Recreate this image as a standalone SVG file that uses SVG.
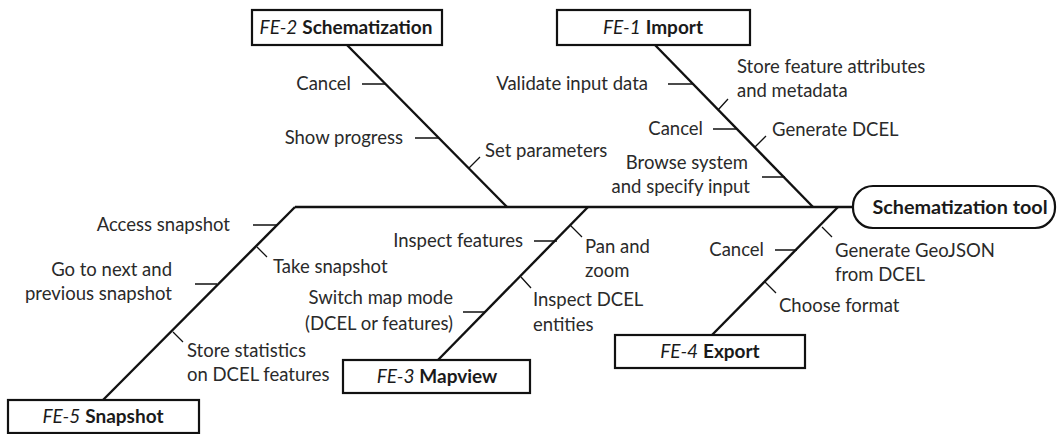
<svg xmlns="http://www.w3.org/2000/svg" width="1060" height="434" viewBox="0 0 1060 434">
<style>
text{font-family:Lato,"Open Sans","Liberation Sans",sans-serif;font-size:18.5px;fill:#2a2a2a}
.r{text-anchor:end}
.c{text-anchor:middle}
.box{fill:#fff;stroke:#111;stroke-width:2.2}
.bt{font-size:19px;fill:#1a1a1a}
.bt .i{font-style:italic;font-weight:normal}
.bt .b{font-weight:bold}
.bone{stroke:#111;stroke-width:2.4;fill:none;stroke-linecap:butt}
.tick{stroke:#111;stroke-width:1.3;fill:none}
</style>
<rect width="1060" height="434" fill="#fff"/>
<g id="connectors">
<path class="bone" d="M295,207 H853"/>
<path class="bone" d="M347,45 L507,207"/>
<path class="bone" d="M655,45 L813,207"/>
<path class="bone" d="M712,335 L838,207"/>
<path class="bone" d="M438,360 L588,207"/>
<path class="bone" d="M103,400 L295,207"/>
<path class="tick" d="M362,84 H385 M415,138 H439 M469,168 L480,157"/>
<path class="tick" d="M668,84 H693 M718,110 L728,99 M713,129 H737 M755,147 L766,136 M762,177 H785"/>
<path class="tick" d="M775,250 H797 M822,227 L832,237 M765,282 L776,293"/>
<path class="tick" d="M534,241 H557 M570,225 L582,237 M521,277 L531,288 M463,312 H485"/>
<path class="tick" d="M253,225 H277 M257,247 L267,257 M195,284 H217 M173,332 L183,342"/>
</g>
<g id="head">
<rect x="853" y="186" width="202" height="42" rx="20" class="box" stroke-width="2.6"/>
<text x="960" y="214" class="c" style="font-weight:bold;font-size:19.8px;fill:#1a1a1a">Schematization tool</text>
</g>
<g id="fe2">
<rect x="252" y="10" width="190" height="35" class="box"/>
<text x="346" y="34" class="c bt"><tspan class="i">FE-2</tspan> <tspan class="b">Schematization</tspan></text>
<text x="351" y="90" class="r">Cancel</text>
<text x="403" y="144" class="r">Show progress</text>
<text x="485" y="157">Set parameters</text>
</g>
<g id="fe1">
<rect x="557" y="10" width="193" height="35" class="box"/>
<text x="653" y="34" class="c bt"><tspan class="i">FE-1</tspan> <tspan class="b">Import</tspan></text>
<text x="648" y="90" class="r">Validate input data</text>
<text x="737" y="73">Store feature attributes</text>
<text x="737" y="97">and metadata</text>
<text x="703" y="135" class="r">Cancel</text>
<text x="772" y="136">Generate DCEL</text>
<text x="748" y="169" class="r">Browse system</text>
<text x="750" y="193" class="r">and specify input</text>
</g>
<g id="fe4">
<rect x="615" y="335" width="190" height="33" class="box"/>
<text x="710" y="358" class="c bt"><tspan class="i">FE-4</tspan> <tspan class="b">Export</tspan></text>
<text x="764" y="256" class="r">Cancel</text>
<text x="835" y="257">Generate GeoJSON</text>
<text x="835" y="281">from DCEL</text>
<text x="779" y="312">Choose format</text>
</g>
<g id="fe3">
<rect x="343" y="360" width="187" height="33" class="box"/>
<text x="437" y="383" class="c bt"><tspan class="i">FE-3</tspan> <tspan class="b">Mapview</tspan></text>
<text x="523" y="247" class="r">Inspect features</text>
<text x="585" y="253">Pan and</text>
<text x="585" y="277">zoom</text>
<text x="533" y="306">Inspect DCEL</text>
<text x="533" y="331">entities</text>
<text x="453" y="304" class="r">Switch map mode</text>
<text x="453" y="330" class="r">(DCEL or features)</text>
</g>
<g id="fe5">
<rect x="8" y="400" width="191" height="33" class="box"/>
<text x="103" y="423" class="c bt"><tspan class="i">FE-5</tspan> <tspan class="b">Snapshot</tspan></text>
<text x="230" y="231" class="r">Access snapshot</text>
<text x="273" y="273">Take snapshot</text>
<text x="172" y="276" class="r">Go to next and</text>
<text x="172" y="300" class="r">previous snapshot</text>
<text x="187" y="357">Store statistics</text>
<text x="187" y="381">on DCEL features</text>
</g>
</svg>
